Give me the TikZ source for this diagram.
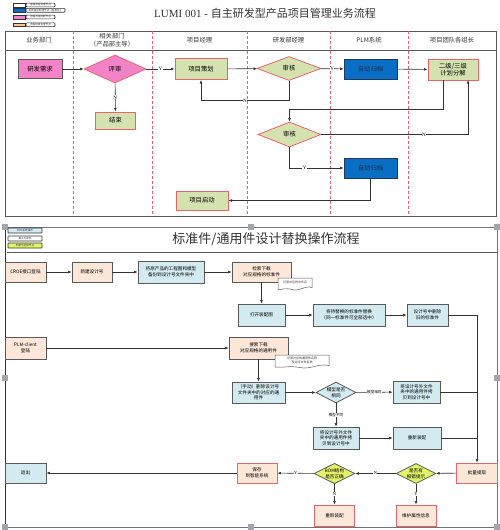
\documentclass[tikz,border=0pt]{standalone}
\usepackage{fontspec}
\setmainfont{Liberation Serif}
\newfontfamily\cjk{Noto Sans CJK SC}
\usetikzlibrary{shapes.geometric,arrows.meta}
\definecolor{pinkc}{HTML}{F283C6}
\definecolor{greenc}{HTML}{D4E2B0}
\definecolor{redc}{HTML}{E8646A}
\definecolor{bluec}{HTML}{0A6FC4}
\definecolor{navyc}{HTML}{1F3864}
\definecolor{tanc}{HTML}{FCE7D8}
\definecolor{lbluec}{HTML}{D3EBF0}
\definecolor{ygc}{HTML}{E2F26A}
\definecolor{framec}{HTML}{595959}
\definecolor{linec}{HTML}{333333}
\definecolor{dashc}{HTML}{E8607A}
\definecolor{handlec}{HTML}{A4A4AE}
\begin{document}
\begin{tikzpicture}[x=1pt,y=-1pt,
  box/.style={draw=framec, line width=0.8pt, inner sep=0.5pt, align=center,
    font=\cjk\fontsize{6.3}{7.5}\selectfont},
  pinkbox/.style={box, fill=pinkc},
  greenbox/.style={box, fill=greenc, draw=redc, line width=1pt},
  bluebox/.style={box, fill=bluec, draw=navyc, text=navyc!80!black},
  dia/.style={diamond, box, aspect=2},
  sbox/.style={draw=framec, line width=0.8pt, inner sep=0.3pt, align=center,
    font=\cjk\fontsize{4.6}{5.6}\selectfont},
  tanbox/.style={sbox, fill=tanc},
  lbbox/.style={sbox, fill=lbluec},
  redtan/.style={sbox, fill=tanc, draw=redc, line width=0.9pt},
  sdia/.style={diamond, sbox, aspect=2},
  arr/.style={-{Latex[length=3.5pt,width=2.8pt]}, draw=linec, line width=0.6pt},
  ln/.style={draw=linec, line width=0.6pt},
  lbl/.style={fill=white, inner sep=0.4pt, font=\fontsize{5}{5}\selectfont},
  clbl/.style={fill=white, inner sep=0.3pt, font=\cjk\fontsize{3.6}{4}\selectfont},
  head/.style={align=center, text=linec, font=\cjk\fontsize{6.3}{8}\selectfont},
  legbox/.style={draw=linec, line width=0.6pt, rounded corners=1pt, fill=white,
    inner sep=0pt, font=\cjk\fontsize{2.6}{3}\selectfont, text=linec},
  handle/.style={fill=handlec}
]
\useasboundingbox (0,0) rectangle (500,530);
\fill[white] (0,0) rectangle (500,530);

% ---------------- top legend ----------------
\node[draw=linec, line width=0.5pt, fill=white, minimum width=12pt, minimum height=3.6pt, inner sep=0pt] (lg1) at (19,5) {};
\node[draw=linec, line width=0.5pt, fill=bluec, minimum width=12pt, minimum height=3.6pt, inner sep=0pt] (lg2) at (19,10.3) {};
\node[draw=linec, line width=0.5pt, fill=pinkc, minimum width=12pt, minimum height=3.6pt, inner sep=0pt] (lg3) at (19,17) {};
\node[draw=linec, line width=0.5pt, fill=orange!45, minimum width=12pt, minimum height=3.6pt, inner sep=0pt] (lg4) at (19,24.7) {};
\node[legbox, minimum width=29pt, minimum height=3.8pt] (lt1) at (40.5,5) {普通流程处理节点};
\node[legbox, minimum width=39pt, minimum height=3.8pt] (lt2) at (45.5,10.3) {系统自动处理节点（信息化）};
\node[legbox, minimum width=29pt, minimum height=3.8pt] (lt3) at (40.5,17) {流程开始判断节点};
\node[legbox, minimum width=29pt, minimum height=3.8pt] (lt4) at (40.5,24.7) {流程结束处理节点};

% ---------------- top title ----------------
\node[inner sep=0pt, font=\fontsize{11}{12}\selectfont, text=linec] (t1) at (265,13)
  {LUMI 001 - {\cjk 自主研发型产品项目管理业务流程}};

% ---------------- top swimlane frame ----------------
\draw[framec, line width=0.9pt] (5,31) rectangle (496,216);
\draw[framec, line width=0.8pt] (5,50) -- (496,50);
\foreach \xx in {73,152,247,330,408}
  \draw[dashc, line width=0.8pt, dash pattern=on 3pt off 2pt] (\xx,31) -- (\xx,216);
\node[head] (h1) at (39,40.5) {业务部门};
\node[head, font=\cjk\fontsize{6.3}{7.8}\selectfont] (h2) at (112,40.5) {相关部门\\（产品部主导）};
\node[head] (h3) at (199.5,40.5) {项目经理};
\node[head] (h4) at (288.5,40.5) {研发部经理};
\node[head] (h5) at (369,40.5) {PLM系统};
\node[head] (h6) at (452,40.5) {项目团队各组长};

% ---------------- top nodes ----------------
\node[pinkbox, minimum width=44pt, minimum height=19pt] (xq) at (40,69) {研发需求};
\node[dia, fill=pinkc, draw=redc, minimum width=62pt, minimum height=28pt] (ps) at (115,69) {评审};
\node[greenbox, minimum width=40pt, minimum height=17pt] (js) at (115.5,120.5) {结束};
\node[greenbox, minimum width=52pt, minimum height=21pt] (ch) at (201,69) {项目策划};
\node[dia, fill=greenc, draw=redc, minimum width=64pt, minimum height=24pt] (sh1) at (289,68.5) {审核};
\node[bluebox, minimum width=53pt, minimum height=20pt] (gd1) at (370.5,69) {自动归档};
\node[greenbox, minimum width=50pt, minimum height=21pt] (fj) at (453,69.5) {二级/三级\\计划分解};
\node[dia, fill=greenc, draw=redc, minimum width=63pt, minimum height=25pt] (sh2) at (289.5,134.5) {审核};
\node[bluebox, minimum width=53pt, minimum height=20pt] (gd2) at (370.5,168) {自动归档};
\node[greenbox, minimum width=52pt, minimum height=19pt] (qd) at (202,200.5) {项目启动};

\coordinate (fjL) at (443,80);
\coordinate (fjR) at (468,80);

% ---------------- top connectors ----------------
\draw[arr] (xq) -- (ps);
\draw[arr] (ps) -- node[lbl]{Y} (ch);
\draw[arr] (ps) -- node[lbl]{N} (js);
\draw[arr] (ch) -- (sh1);
\draw[arr] (sh1) -- node[lbl]{Y} (gd1);
\draw[arr] (gd1) -- (fj);
\draw[arr] (sh1.south) -- ++(0,19.5) -| node[lbl,pos=0.25]{N} (ch.south);
\draw[arr] (fjL) -- ++(0,29) -| (sh2.north);
\draw[arr] (sh2.east) -| node[lbl,pos=0.35]{N} (fjR);
\draw[arr] (sh2.south) |- node[lbl,pos=0.64]{Y} (gd2.west);
\draw[arr] (gd2.south) |- (qd.east);

% ---------------- bottom panel frame ----------------
\draw[handlec!70!black, line width=0.9pt] (5,227) rectangle (497,527);
\draw[linec, line width=0.9pt] (5,227) -- (5,527);
\draw[framec, line width=0.8pt] (7,252) -- (497,252);
\foreach \hx/\hy in {5/227,251/227,497/227,5/378,497/378,5/527,251/527,497/527}
  \fill[handle] (\hx-3,\hy-3) rectangle (\hx+3,\hy+3);

% bottom legend
\node[legbox, rounded corners=0.5pt, fill=lbluec, minimum width=34pt, minimum height=5pt] (bl1) at (25,230.5) {PDM系统操作};
\node[legbox, rounded corners=0.5pt, fill=white, minimum width=34pt, minimum height=5pt] (bl2) at (25,238.5) {第三方软件};
\node[legbox, rounded corners=0.5pt, fill=ygc, minimum width=34pt, minimum height=5pt] (bl3) at (25,245.5) {判断与选择节点};

\node[inner sep=0pt, font=\cjk\fontsize{13}{14}\selectfont, text=linec] (t2) at (266,239.5)
  {标准件/通用件设计替换操作流程};

% ---------------- bottom nodes ----------------
\node[tanbox, minimum width=41pt, minimum height=20pt] (croe) at (25.5,272) {CROE接口登陆};
\node[tanbox, minimum width=40pt, minimum height=20pt] (xj) at (92,272) {新建设计号};
\node[lbbox, minimum width=66pt, minimum height=22pt] (bf) at (171,272) {将原产品的工程图和模型\\备份到设计号文件夹中};
\node[tanbox, minimum width=59pt, minimum height=20pt] (jx) at (261.5,272) {检索下载\\对应规格的标准件};
\node[lbbox, minimum width=47pt, minimum height=22pt] (dk) at (261.5,315) {打开装配图};
\node[lbbox, minimum width=72pt, minimum height=22pt] (th) at (349,315) {将待替换的标准件替换\\（同一标准件可全部选中）};
\node[lbbox, minimum width=41pt, minimum height=22pt] (sc) at (427.5,315) {设计号中删除\\旧的标准件};
\node[tanbox, minimum width=41pt, minimum height=22pt] (plm) at (25.5,348) {PLM-client\\登陆};
\node[tanbox, minimum width=59pt, minimum height=22pt] (ss) at (258.5,348) {搜索下载\\对应规格的通用件};
\node[lbbox, minimum width=53pt, minimum height=21pt] (sd) at (258.5,392.5) {（手动）删除设计号\\文件夹中的对应的通\\用件};
\node[sdia, fill=lbluec, minimum width=40pt, minimum height=21pt] (mx) at (336,392.5) {模型是否\\相同};
\node[lbbox, minimum width=47pt, minimum height=22pt] (kb1) at (416.5,392) {将设计号外文件\\夹中的通用件拷\\贝到设计号中};
\node[lbbox, minimum width=46pt, minimum height=22pt] (kb2) at (336,438) {将设计号外文件\\夹中的通用件拷\\贝到设计号中};
\node[lbbox, minimum width=48pt, minimum height=22pt] (cx) at (417,438) {重新装配};
\node[redtan, minimum width=41pt, minimum height=20pt] (pl) at (477,473) {批量提取};
\node[sdia, fill=ygc, minimum width=40pt, minimum height=20pt] (bc) at (416,473.5) {是否有\\报错提示};
\node[sdia, fill=ygc, minimum width=40pt, minimum height=20pt] (bom) at (334.5,473.5) {BOM结构\\是否正确};
\node[redtan, minimum width=40pt, minimum height=20pt] (save) at (257,473) {保存\\到智能系统};
\node[lbbox, minimum width=41pt, minimum height=20pt] (tc) at (25.5,473) {退出};
\node[redtan, minimum width=40pt, minimum height=21pt] (cz) at (334.5,515.5) {重新装配};
\node[redtan, minimum width=40pt, minimum height=21pt] (wh) at (416,515.5) {维护属性信息};

% note shapes
\draw[framec, line width=0.5pt, fill=white] (278,278) -- (312,278) -- (312,287.5)
  .. controls (305,285) and (299,292) .. (292,289.5)
  .. controls (285,287.5) and (282,290) .. (278,289.5) -- cycle;
\node[inner sep=0pt, font=\cjk\fontsize{3}{3.5}\selectfont, text=linec] (n1) at (295,282.5) {记录对应的文件名};
\draw[framec, line width=0.5pt, fill=white] (275,355) -- (329,355) -- (329,365.5)
  .. controls (318,363) and (310,370) .. (300,367.5)
  .. controls (290,365.5) and (283,368) .. (275,367) -- cycle;
\node[inner sep=0pt, align=center, font=\cjk\fontsize{3}{3.6}\selectfont, text=linec] (n2) at (302,360.5) {记录对应的通用件名称\\及对应文件名称};

% ---------------- bottom connectors ----------------
\draw[arr] (croe) -- (xj);
\draw[arr] (xj) -- (bf);
\draw[arr] (bf) -- (jx);
\draw[arr] (jx) -- (dk);
\draw[arr] (dk) -- (th);
\draw[arr] (th) -- (sc);
\draw[arr] (sc.east) -| (pl.north);
\draw[arr] (plm) -- (ss);
\draw[arr] (ss) -- (sd);
\draw[arr] (sd) -- (mx);
\draw[arr] (mx) -- node[clbl]{模型相同} (kb1);
\draw[arr] (mx) -- node[clbl]{模型不同} (kb2);
\draw[ln] (kb1.east) -- (kb1.east -| pl.north);
\draw[arr] (kb2) -- (cx);
\draw[ln] (cx.east) -- (cx.east -| pl.north);
\draw[arr] (pl) -- (bc);
\draw[arr] (bc) -- node[lbl, font=\fontsize{4.5}{5}\selectfont]{N} (bom);
\draw[arr] (bom) -- node[lbl, font=\fontsize{4.5}{5}\selectfont]{Y} (save);
\draw[arr] (save) -- (tc);
\draw[arr] (bc) -- node[lbl, font=\fontsize{4.5}{5}\selectfont]{Y} (wh);
\draw[arr] (bom) -- node[lbl, font=\fontsize{4.5}{5}\selectfont]{N} (cz);
\end{tikzpicture}
\end{document}
